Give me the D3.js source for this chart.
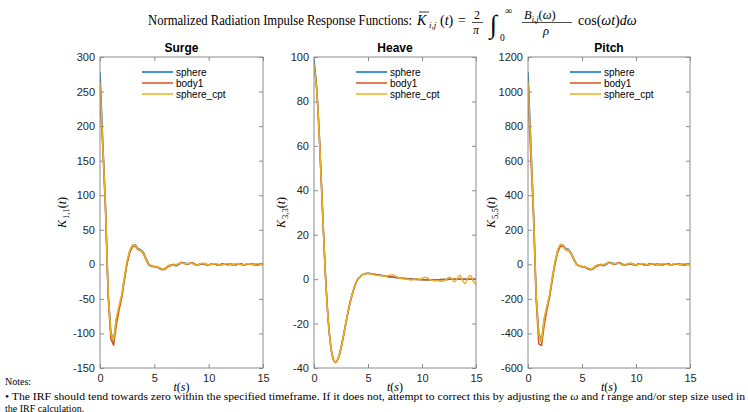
<!DOCTYPE html>
<html><head><meta charset="utf-8">
<script src="https://cdn.jsdelivr.net/npm/d3@7"></script>
<style>html,body{margin:0;padding:0;background:#fff;}svg{display:block;}</style>
</head><body>
<svg id="chart" width="748" height="412"></svg>
<script>
const TIME = [0,0.25,0.5,0.75,1,1.25,1.5,1.75,2,2.25,2.5,2.75,3,3.25,3.5,3.75,4,4.25,4.5,4.75,5,5.25,5.5,5.75,6,6.25,6.5,6.75,7,7.25,7.5,7.75,8,8.25,8.5,8.75,9,9.25,9.5,9.75,10,10.25,10.5,10.75,11,11.25,11.5,11.75,12,12.25,12.5,12.75,13,13.25,13.5,13.75,14,14.25,14.5,14.75,15];
const SERIES_NAMES = ["sphere","body1","sphere_cpt"];
const SERIES_COLORS = ["#0072BD","#D95319","#EDB120"];

const SURGE_SPHERE = [278,180,88,-40,-98,-112,-80,-63,-46,-20,4,19,27,28,23,21,17,8,0,-3,-3,-4,-6,-7,-6,-3,-1,-1,-2,0,2,2,1,1,2,0,-1,0,1,0,-1,0,1,0,-1,0,1,0,0,-1,0,1,0,-1,0,1,0,0,-1,0,0];
const SURGE_BODY1 = [240,170,80,-48,-108,-117,-88,-66,-48,-22,2,18,26,26,21,20,15,6,-1,-2,-4,-3,-6,-8,-7,-3,-2,0,-1,1,3,1,0,2,2,-1,-1,1,1,-1,-1,1,1,-1,-1,1,1,-1,0,0,-1,1,1,-1,0,1,0,-1,0,1,0];
const SURGE_CPT = [264,176,86,-42,-100,-110,-78,-60,-44,-18,6,21,28,27,22,20,16,7,0,-2,-4,-4,-5,-7,-6,-2,-1,-1,-1,1,2,1,1,2,1,-1,-1,1,2,0,-1,0,1,1,-1,-1,1,1,-1,-1,1,1,-1,-1,1,1,-1,0,1,0,-1];

const HEAVE_SPHERE = [98.3,86,64,36,8,-14,-28,-35.5,-37.5,-35.5,-31,-25,-18.5,-12.5,-7.5,-3.5,-0.5,1,2,2.5,2.6,2.5,2.3,2.1,1.9,1.7,1.5,1.3,1.1,1.0,0.8,0.7,0.5,0.4,0.3,0.2,0.1,0,-0.1,-0.2,-0.2,-0.3,-0.3,-0.3,-0.3,-0.3,-0.3,-0.2,-0.2,-0.2,-0.1,-0.1,-0.1,0,0,0,0,0,0,0,0];
const HEAVE_BODY1 = [96.5,85,63,35,7.5,-14,-28,-35.5,-37.5,-35.5,-31,-25,-18.5,-12.5,-7.5,-3.5,-0.5,1,2,2.4,2.5,2.4,2.2,2.0,1.8,1.6,1.4,1.2,1.0,0.9,0.7,0.6,0.4,0.3,0.2,0.1,0,-0.1,-0.2,-0.2,-0.3,-0.3,-0.3,-0.3,-0.3,-0.3,-0.3,-0.2,-0.2,-0.2,-0.1,-0.1,-0.1,0,0,0,0,0,0,0,0];
const HEAVE_CPT = [96.5,85.5,63.5,35.5,7.5,-14,-28,-35.5,-37.5,-35.5,-31,-25,-18.5,-12.5,-7.5,-3.5,-0.5,1,2,2.5,2.6,2.4,2.1,1.8,1.6,1.5,1.3,1.4,1.8,2.0,1.5,0.8,0.4,0.2,0,-0.2,-0.4,-0.2,0.3,-0.1,0.3,0.8,0.5,-0.2,-0.6,-0.8,-0.7,-0.9,-0.8,-0.2,0.8,0.4,-1.2,0.2,1.7,-0.5,-2.0,0.5,1.8,-1.0,-2.2];

const PITCH_SPHERE = [1115,720,330,-170,-400,-450,-320,-250,-180,-80,10,80,112,110,90,88,65,30,2,-10,-12,-16,-24,-30,-25,-12,-4,-4,-8,0,8,8,4,4,8,0,-4,0,4,0,-4,0,4,0,-4,0,4,0,0,-4,0,4,0,-4,0,4,0,0,-4,0,0];
const PITCH_BODY1 = [965,640,290,-200,-460,-470,-350,-265,-190,-90,2,72,105,104,84,82,60,25,-2,-8,-16,-12,-24,-32,-28,-12,-8,0,-4,4,12,4,0,8,8,-4,-4,4,4,-4,-4,4,4,-4,-4,4,4,-4,0,0,-4,4,4,-4,0,4,0,-4,0,4,0];
const PITCH_CPT = [1060,700,320,-175,-410,-445,-315,-245,-175,-75,15,85,116,108,88,84,64,28,0,-8,-16,-16,-20,-28,-24,-8,-4,-4,-4,4,8,4,4,8,4,-4,-4,4,8,0,-4,0,4,4,-4,-4,4,4,-4,-4,4,4,-4,-4,4,4,-4,0,4,0,-4];

const X_TICKS = [0,5,10,15];
const SURGE_TICKS = [-150,-100,-50,0,50,100,150,200,250,300];
const HEAVE_TICKS = [-40,-20,0,20,40,60,80,100];
const PITCH_TICKS = [-600,-400,-200,0,200,400,600,800,1000,1200];

const PANELS = [
  {title:"Surge", sub:"1,1", left:100, right:263, ticks:SURGE_TICKS, series:[SURGE_SPHERE,SURGE_BODY1,SURGE_CPT], smooth:false, ylx:66},
  {title:"Heave", sub:"3,3", left:314, right:476, ticks:HEAVE_TICKS, series:[HEAVE_SPHERE,HEAVE_BODY1,HEAVE_CPT], smooth:true, ylx:285},
  {title:"Pitch", sub:"5,5", left:528, right:690, ticks:PITCH_TICKS, series:[PITCH_SPHERE,PITCH_BODY1,PITCH_CPT], smooth:false, ylx:495}
];
const TOP = 57, BOTTOM = 368;
const AX_COLOR = "#8c8c8c", TXT = "#262626";
const SANS = "'Liberation Sans', Arial, sans-serif";
const SERIF = "'Liberation Serif', 'DejaVu Serif', serif";

const svg = d3.select("#chart");

// Title with formula
const T = svg.append("g").attr("fill","#000").style("font-family",SERIF);
const tb = 25;
T.append("text").attr("x",148).attr("y",tb).attr("font-size",14).attr("textLength",264).attr("lengthAdjust","spacingAndGlyphs")
  .text("Normalized Radiation Impulse Response Functions:");
T.append("text").attr("x",417).attr("y",tb).attr("font-size",14).attr("font-style","italic").text("K");
T.append("line").attr("x1",419).attr("x2",429).attr("y1",12).attr("y2",12).attr("stroke","#000").attr("stroke-width",0.8);
T.append("text").attr("x",429).attr("y",tb+3).attr("font-size",9).attr("font-style","italic").text("i,j");
T.append("text").attr("x",440).attr("y",tb).attr("font-size",14).html("(<tspan font-style='italic'>t</tspan>)");
T.append("text").attr("x",458).attr("y",tb).attr("font-size",14).text("=");
T.append("text").attr("x",474).attr("y",19).attr("font-size",12).text("2");
T.append("line").attr("x1",472).attr("x2",483).attr("y1",22.5).attr("y2",22.5).attr("stroke","#000").attr("stroke-width",0.7);
T.append("text").attr("x",473).attr("y",34).attr("font-size",12).attr("font-style","italic").text("π");
T.append("text").attr("x",490).attr("y",33).attr("font-size",26).text("∫");
T.append("text").attr("x",505).attr("y",14).attr("font-size",10).text("∞");
T.append("text").attr("x",500).attr("y",41).attr("font-size",9.5).text("0");
T.append("text").attr("x",524).attr("y",19).attr("font-size",12.5).html("<tspan font-style='italic'>B</tspan><tspan font-size='8.5' dy='2.5' font-style='italic'>i,j</tspan><tspan dy='-2.5'>(</tspan><tspan font-style='italic'>ω</tspan>)");
T.append("line").attr("x1",522).attr("x2",572).attr("y1",22.5).attr("y2",22.5).attr("stroke","#000").attr("stroke-width",0.7);
T.append("text").attr("x",543).attr("y",35).attr("font-size",12.5).attr("font-style","italic").text("ρ");
T.append("text").attr("x",578).attr("y",tb).attr("font-size",14).html("cos(<tspan font-style='italic'>ωt</tspan>)<tspan font-style='italic'>dω</tspan>");

PANELS.forEach((p, pi) => {
  const x = d3.scaleLinear().domain([0,15]).range([p.left, p.right]);
  const y = d3.scaleLinear().domain([p.ticks[0], p.ticks[p.ticks.length-1]]).range([BOTTOM, TOP]);
  const g = svg.append("g");
  const clipId = "clip"+pi;
  g.append("clipPath").attr("id",clipId).append("rect")
    .attr("x",p.left).attr("y",TOP).attr("width",p.right-p.left).attr("height",BOTTOM-TOP);

  const styleAxis = (sel, textSide) => {
    sel.select(".domain").remove();
    sel.selectAll(".tick line").attr("stroke",AX_COLOR);
    sel.selectAll(".tick text").attr("fill",TXT).style("font-family",SANS).style("font-size","11px");
    if (!textSide) sel.selectAll(".tick text").remove();
  };
  g.append("g").attr("transform",`translate(0,${BOTTOM})`)
    .call(d3.axisBottom(x).tickValues(X_TICKS).tickFormat(d3.format("d")).tickSizeInner(-4).tickSizeOuter(0).tickPadding(6))
    .call(s=>styleAxis(s,true));
  g.append("g").attr("transform",`translate(0,${TOP})`)
    .call(d3.axisTop(x).tickValues(X_TICKS).tickSizeInner(-4).tickSizeOuter(0))
    .call(s=>styleAxis(s,false));
  g.append("g").attr("transform",`translate(${p.left},0)`)
    .call(d3.axisLeft(y).tickValues(p.ticks).tickFormat(d3.format("d")).tickSizeInner(-4).tickSizeOuter(0).tickPadding(5))
    .call(s=>styleAxis(s,true));
  g.append("g").attr("transform",`translate(${p.right},0)`)
    .call(d3.axisRight(y).tickValues(p.ticks).tickSizeInner(-4).tickSizeOuter(0))
    .call(s=>styleAxis(s,false));
  g.selectAll(".tick text").filter(function(){return this.textContent.startsWith("−");})
    .text(function(){return "-" + this.textContent.slice(1);});

  const line = d3.line().x((d,i)=>x(TIME[i])).y(d=>y(d))
    .curve(p.smooth ? d3.curveMonotoneX : d3.curveLinear);
  const lg = g.append("g").attr("clip-path",`url(#${clipId})`);
  p.series.forEach((s, si) => {
    lg.append("path").datum(s).attr("d",line).attr("fill","none")
      .attr("stroke",SERIES_COLORS[si]).attr("stroke-width",1.5).attr("stroke-linejoin","round");
  });

  g.append("rect").attr("x",p.left).attr("y",TOP).attr("width",p.right-p.left).attr("height",BOTTOM-TOP)
    .attr("fill","none").attr("stroke",AX_COLOR).attr("stroke-width",1);

  // legend
  SERIES_NAMES.forEach((n, si) => {
    const ly = 72 + si*11;
    g.append("line").attr("x1",p.left+42).attr("x2",p.left+73).attr("y1",ly).attr("y2",ly)
      .attr("stroke",SERIES_COLORS[si]).attr("stroke-width",1.5);
    g.append("text").attr("x",p.left+76).attr("y",ly+3.5).attr("fill","#000")
      .style("font-family",SANS).style("font-size","10px").text(n);
  });

  const cx = (p.left+p.right)/2;
  g.append("text").attr("x",cx).attr("y",52).attr("text-anchor","middle").attr("fill","#000")
    .style("font-family",SANS).style("font-size","12px").style("font-weight","bold").text(p.title);

  g.append("text").attr("x",cx).attr("y",391).attr("text-anchor","middle").attr("fill","#000")
    .style("font-family",SERIF).style("font-size","12px")
    .html("<tspan font-style='italic'>t</tspan>(<tspan font-style='italic'>s</tspan>)");

  const cy = (TOP+BOTTOM)/2;
  g.append("text").attr("transform",`translate(${p.ylx},${cy}) rotate(-90)`).attr("text-anchor","middle").attr("fill","#000")
    .style("font-family",SERIF).style("font-size","12px")
    .html(`<tspan font-style='italic'>K</tspan><tspan font-size='8.5' dy='3' dx='1'>${p.sub}</tspan><tspan dy='-3'>(</tspan><tspan font-style='italic'>t</tspan>)`);
});

// Notes
const N = svg.append("g").attr("fill","#000").style("font-family",SERIF).style("font-size","10px");
N.append("text").attr("x",5).attr("y",385).text("Notes:");
N.append("text").attr("x",5).attr("y",400).attr("textLength",740).attr("lengthAdjust","spacingAndGlyphs")
  .html("• The IRF should tend towards zero within the specified timeframe. If it does not, attempt to correct this by adjusting the <tspan font-style='italic'>ω</tspan> and <tspan font-style='italic'>t</tspan> range and/or step size used in");
N.append("text").attr("x",5).attr("y",412).text("the IRF calculation.");
</script>
</body></html>
